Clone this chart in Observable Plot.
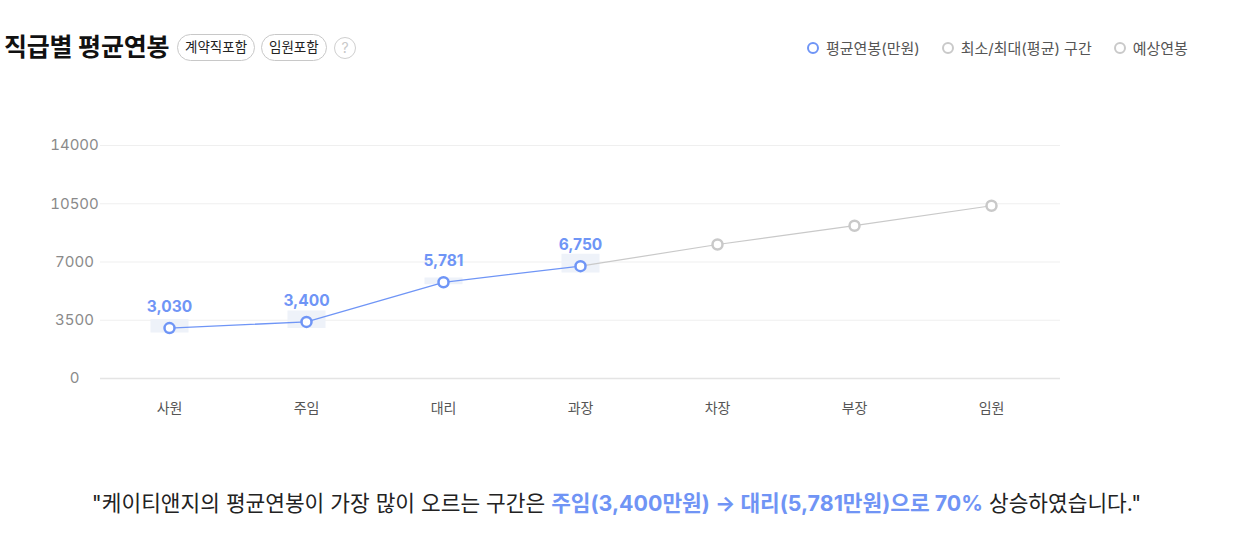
<!DOCTYPE html>
<html>
<head>
<meta charset="utf-8">
<script src="https://cdn.jsdelivr.net/npm/d3@7"></script>
<script src="https://cdn.jsdelivr.net/npm/@observablehq/plot@0.6"></script>
<style>
  html, body { margin: 0; padding: 0; background: #fff; }
  body { width: 1233px; height: 537px; position: relative; overflow: hidden;
         font-family: Inter, "Noto Sans CJK KR", sans-serif; }
  #title { position: absolute; left: 4px; top: 27px; font-size: 25px; font-weight: 700; color: #111;
           letter-spacing: -0.2px; white-space: nowrap; }
  .pill { position: absolute; top: 34px; height: 25px; border: 1px solid #c8c8c8; border-radius: 14px;
          font-size: 13.5px; color: #222; line-height: 24px; padding: 0 7px; box-sizing: content-box; white-space: nowrap; }
  #help { position: absolute; left: 334px; top: 37px; width: 20px; height: 20px; border: 1px solid #cfcfcf;
          border-radius: 50%; color: #c8c8c8; font-size: 14px; text-align: center; line-height: 20px; }
  #legend { position: absolute; top: 37px; left: 807px; font-size: 15px; color: #555; white-space: nowrap; }
  .li { display: inline-flex; align-items: center; margin-right: 22px; }
  .li .c { width: 8px; height: 8px; border-radius: 50%; border: 2.5px solid; margin-right: 7px; background: #fff; }
  #chart { position: absolute; left: 0; top: 0; }
  #caption { position: absolute; top: 486px; left: 0; width: 1233px; text-align: center; font-size: 21.4px;
             color: #222; white-space: nowrap; letter-spacing: 0px; }
  #caption b { color: #7094f5; font-weight: 700; }
</style>
</head>
<body>
<div id="title">직급별 평균연봉</div>
<div class="pill" style="left:177px">계약직포함</div>
<div class="pill" style="left:261px">임원포함</div>
<div id="help">?</div>
<div id="legend"></div>
<div id="chart"></div>
<div id="caption"></div>
<script>
const categories = ["사원", "주임", "대리", "과장", "차장", "부장", "임원"];
const actualCats = ["사원", "주임", "대리", "과장"];
const actualSalary = [3030, 3400, 5781, 6750];
const rangeMin = [2740, 3000, 5640, 6340];
const rangeMax = [3540, 4060, 6040, 7460];
const predictedCats = ["과장", "차장", "부장", "임원"];
const predictedSalary = [6750, 8050, 9180, 10380];
const yTicks = [0, 3500, 7000, 10500, 14000];
const legendLabels = ["평균연봉(만원)", "최소/최대(평균) 구간", "예상연봉"];

const BLUE = "#6f95f6";
const GRAY = "#c9c9c9";
const FONT = 'Inter, "Noto Sans CJK KR", sans-serif';

const actual = actualCats.map((c, i) => ({cat: c, v: actualSalary[i], lo: rangeMin[i], hi: rangeMax[i]}));
const predicted = predictedCats.map((c, i) => ({cat: c, v: predictedSalary[i]}));

// legend
const legendColors = [BLUE, GRAY, GRAY];
document.getElementById("legend").innerHTML = legendLabels.map((l, i) =>
  `<span class="li"><span class="c" style="border-color:${legendColors[i]}"></span>${l}</span>`).join("");

const plot = Plot.plot({
  width: 1233,
  height: 440,
  marginLeft: 100,
  marginRight: 173,
  marginTop: 145,
  marginBottom: 62,
  style: {fontFamily: FONT, background: "transparent"},
  x: {type: "point", domain: categories, padding: 0.5, label: null},
  y: {domain: [0, 14000], label: null},
  marks: [
    Plot.gridY(yTicks.slice(1), {stroke: "#efefef", strokeOpacity: 1, strokeWidth: 1}),
    Plot.ruleY([0], {stroke: "#e4e4e4", strokeWidth: 1.5}),
    Plot.axisY({ticks: yTicks, tickSize: 0, tickPadding: 26, textAnchor: "middle",
                tickFormat: d => String(d), fontSize: 15, fill: "#8a8a8a", label: null}),
    Plot.axisX({tickSize: 0, tickPadding: 25, fontSize: 14, fill: "#555", label: null}),
    Plot.ruleX(actual, {x: "cat", y1: "lo", y2: "hi", stroke: "#eef2f9", strokeWidth: 38}),
    Plot.line(predicted, {x: "cat", y: "v", stroke: GRAY, strokeWidth: 1.2}),
    Plot.line(actual, {x: "cat", y: "v", stroke: BLUE, strokeWidth: 1.3}),
    Plot.dot(predicted.slice(1), {x: "cat", y: "v", r: 5, stroke: GRAY, strokeWidth: 2.5, fill: "#fff"}),
    Plot.dot(actual, {x: "cat", y: "v", r: 5, stroke: BLUE, strokeWidth: 2.5, fill: "#fff"}),
    Plot.text(actual, {x: "cat", y: "v", text: d => d3.format(",")(d.v), dy: -21, fill: BLUE,
                       fontSize: 15.5, fontWeight: 700})
  ]
});
document.getElementById("chart").appendChild(plot);

document.getElementById("caption").innerHTML =
  `"케이티앤지의 평균연봉이 가장 많이 오르는 구간은 <b>주임(${d3.format(",")(actualSalary[1])}만원) → 대리(${d3.format(",")(actualSalary[2])}만원)으로 70%</b> 상승하였습니다."`;
</script>
</body>
</html>
